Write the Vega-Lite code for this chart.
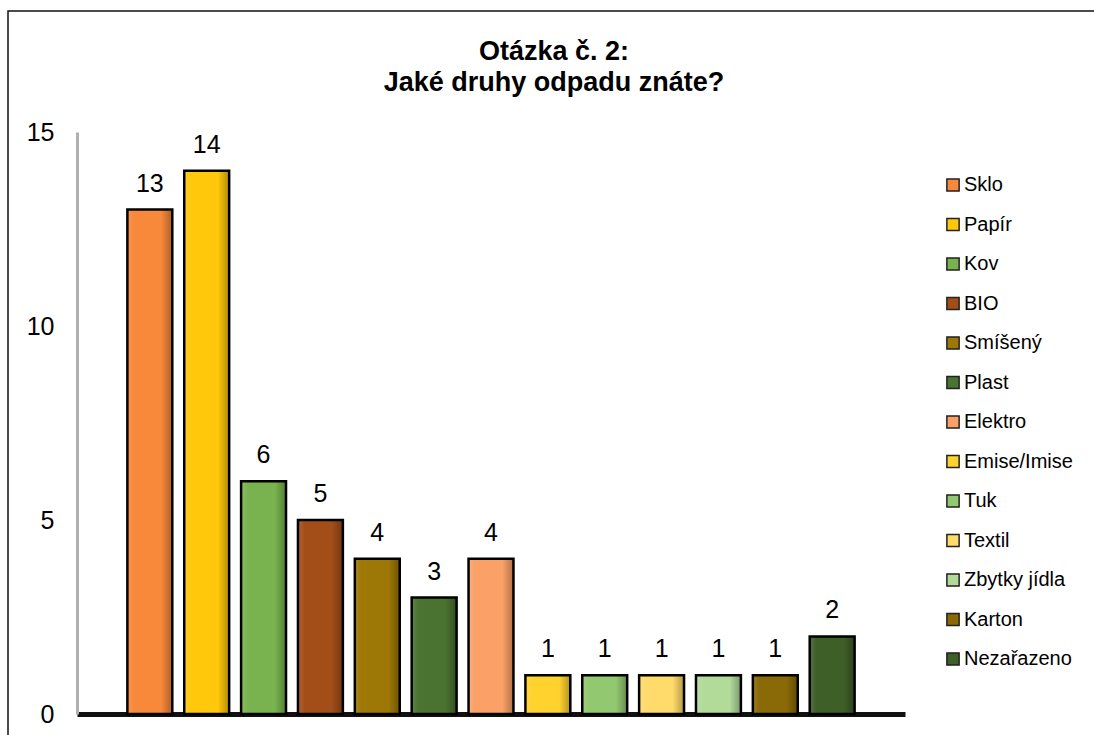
{
  "$schema": "https://vega.github.io/schema/vega-lite/v6.json",
  "autosize": {"type": "none"},
  "padding": {"left": 8, "top": 11, "right": 0, "bottom": 0},
  "width": 1092,
  "height": 729,
  "background": "white",
  "config": {
    "font": "Liberation Sans",
    "view": {"stroke": "#111", "strokeWidth": 1.5}
  },
  "title": {
    "text": ["Otázka č. 2:", "Jaké druhy odpadu znáte?"],
    "font": "Liberation Sans",
    "fontSize": 27,
    "fontWeight": "bold",
    "color": "black",
    "lineHeight": 31,
    "anchor": "middle",
    "frame": "group",
    "baseline": "top",
    "offset": -86
  },
  "data": {
    "values": [
      {"druh": "Sklo", "pocet": 13},
      {"druh": "Papír", "pocet": 14},
      {"druh": "Kov", "pocet": 6},
      {"druh": "BIO", "pocet": 5},
      {"druh": "Smíšený", "pocet": 4},
      {"druh": "Plast", "pocet": 3},
      {"druh": "Elektro", "pocet": 4},
      {"druh": "Emise/Imise", "pocet": 1},
      {"druh": "Tuk", "pocet": 1},
      {"druh": "Textil", "pocet": 1},
      {"druh": "Zbytky jídla", "pocet": 1},
      {"druh": "Karton", "pocet": 1},
      {"druh": "Nezařazeno", "pocet": 2}
    ]
  },
  "encoding": {
    "x": {
      "field": "druh",
      "type": "nominal",
      "sort": null,
      "scale": {"range": [69, 897], "paddingInner": 0.21, "paddingOuter": 0.886},
      "axis": {
        "title": null,
        "labels": false,
        "ticks": false,
        "domainColor": "#111",
        "domainWidth": 5,
        "offset": -26
      }
    },
    "y": {
      "field": "pocet",
      "type": "quantitative",
      "scale": {"domain": [0, 15], "nice": false, "range": [703, 121]},
      "axis": {
        "title": null,
        "values": [0, 5, 10, 15],
        "grid": false,
        "ticks": false,
        "domainColor": "#b0b0b0",
        "domainWidth": 3,
        "offset": -69,
        "labelFont": "Liberation Sans",
        "labelFontSize": 25,
        "labelColor": "black",
        "labelPadding": 23
      }
    }
  },
  "layer": [
    {
      "mark": {"type": "bar"},
      "encoding": {
        "color": {
          "field": "druh",
          "type": "nominal",
          "sort": null,
          "scale": {
            "domain": ["Sklo", "Papír", "Kov", "BIO", "Smíšený", "Plast", "Elektro", "Emise/Imise", "Tuk", "Textil", "Zbytky jídla", "Karton", "Nezařazeno"],
            "range": ["#F8883A", "#FFC80A", "#79B34F", "#A34E18", "#9E7806", "#4A7231", "#FBA168", "#FFD22E", "#92C86F", "#FFDB6B", "#B2DB9A", "#8A6907", "#3F5F29"]
          },
          "legend": {
            "title": null,
            "orient": "none",
            "legendX": 935,
            "legendY": 164,
            "padding": 0,
            "symbolType": "square",
            "symbolSize": 150,
            "symbolStrokeColor": "#222",
            "symbolStrokeWidth": 1.5,
            "symbolOpacity": 1,
            "labelFont": "Liberation Sans",
            "labelFontSize": 20,
            "labelColor": "black",
            "labelOffset": 1,
            "rowPadding": 19.5,
            "labelLimit": 200
          }
        }
      }
    },
    {
      "mark": {
        "type": "bar",
        "stroke": "black",
        "strokeWidth": 2.5,
        "color": {
          "gradient": "linear",
          "x1": 0, "y1": 0, "x2": 1, "y2": 0,
          "stops": [
            {"offset": 0, "color": "rgba(255,255,255,0.12)"},
            {"offset": 0.15, "color": "rgba(255,255,255,0)"},
            {"offset": 0.75, "color": "rgba(0,0,0,0)"},
            {"offset": 1, "color": "rgba(0,0,0,0.3)"}
          ]
        }
      },
      "encoding": {}
    },
    {
      "mark": {"type": "text", "font": "Liberation Sans", "fontSize": 25, "color": "black", "baseline": "middle", "dy": -26},
      "encoding": {
        "text": {"field": "pocet", "type": "quantitative"}
      }
    }
  ]
}
